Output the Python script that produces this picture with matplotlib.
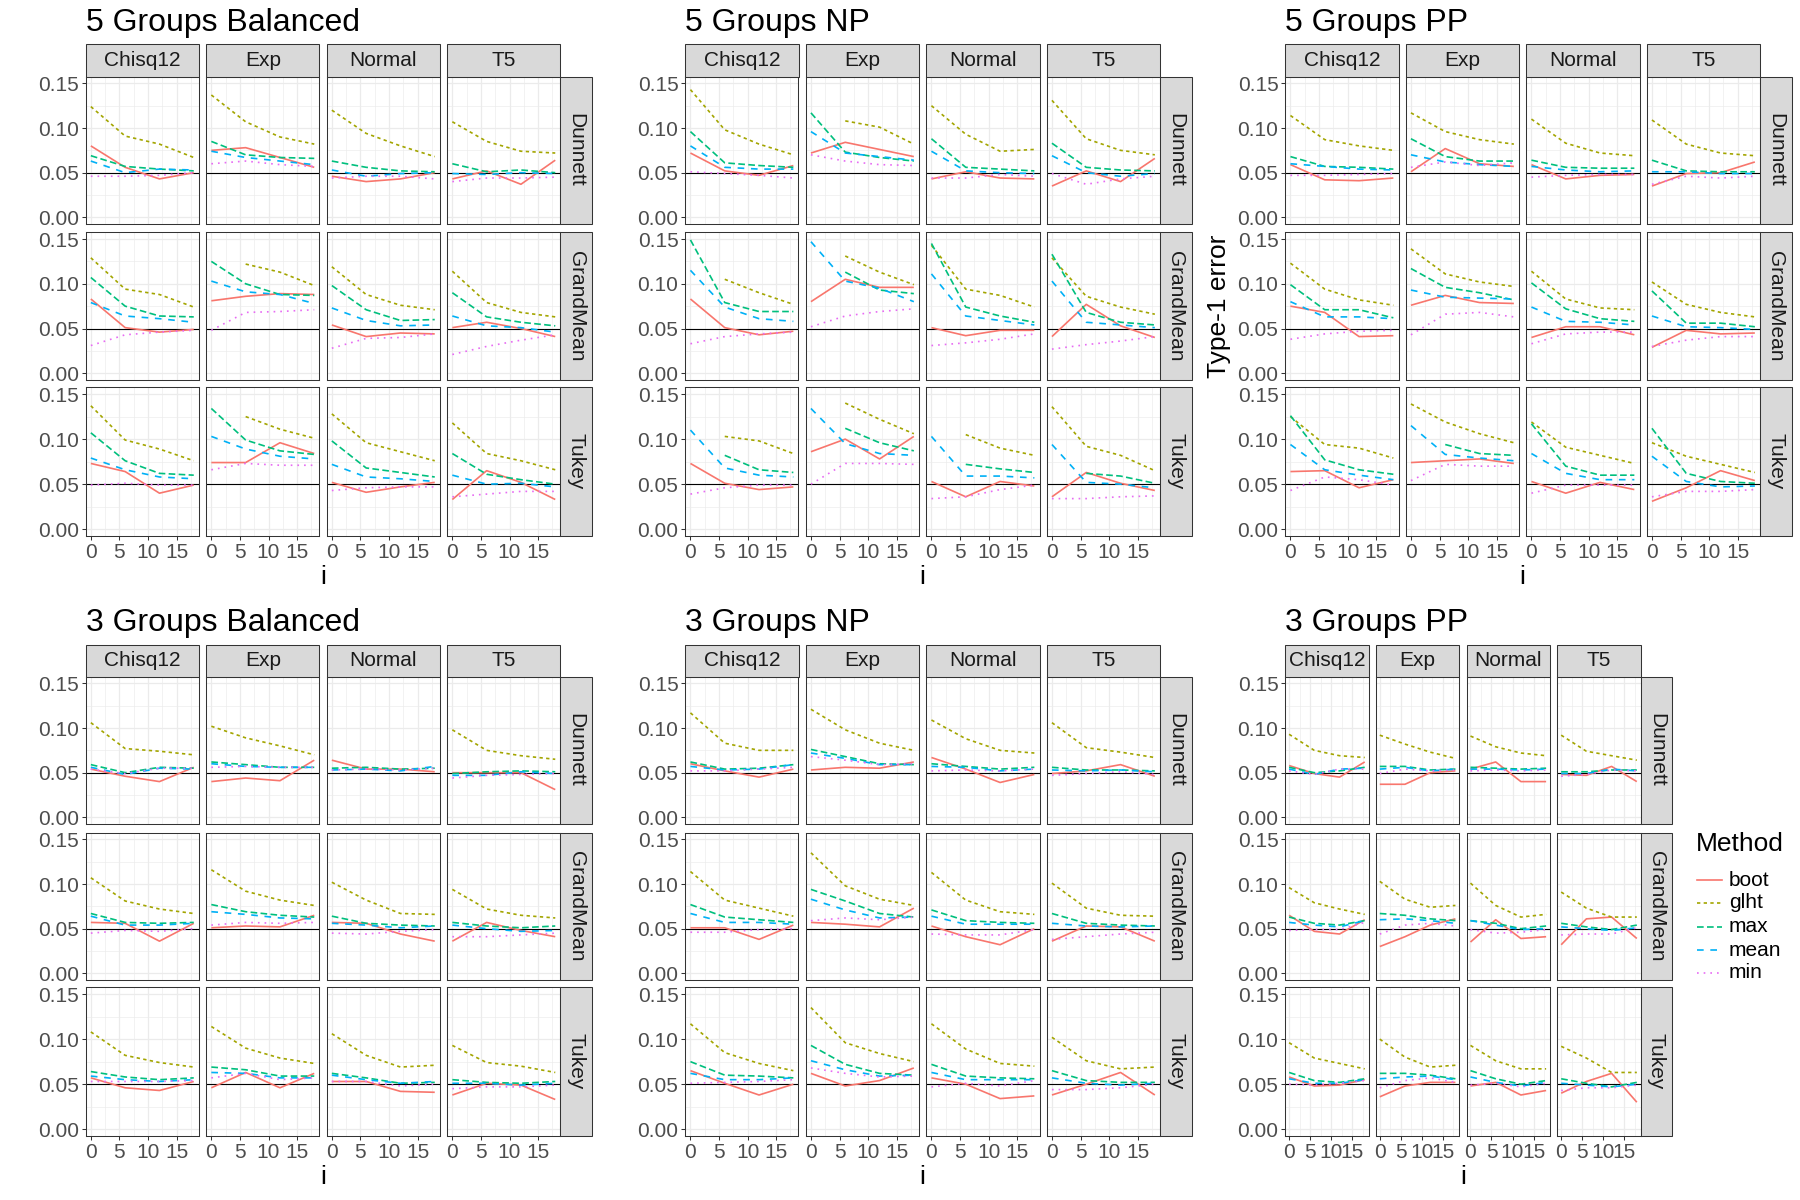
import numpy as np
import matplotlib
matplotlib.use("Agg")
import matplotlib.pyplot as plt
from matplotlib.lines import Line2D
from matplotlib.patches import Rectangle

plt.rcParams['font.family'] = ['Liberation Sans', 'DejaVu Sans']

nan = np.nan
i_values = [0, 6, 12, 18]
distributions = ["Chisq12", "Exp", "Normal", "T5"]
tests = ["Dunnett", "GrandMean", "Tukey"]
methods = ["boot", "glht", "max", "mean", "min"]
y_ticks = [0.00, 0.05, 0.10, 0.15]
y_tick_labels = ["0.00", "0.05", "0.10", "0.15"]
x_ticks = [0, 5, 10, 15]

# ---- values: per method, one list of 4 values (i = 0, 6, 12, 18) for each distribution ----
# 5 Groups Balanced
g5_bal_dunnett = {
    "boot": [[0.080, 0.056, 0.043, 0.050], [0.075, 0.078, 0.067, 0.056], [0.046, 0.040, 0.043, 0.050], [0.043, 0.052, 0.037, 0.064]],
    "glht": [[0.124, 0.091, 0.082, 0.067], [0.137, 0.107, 0.090, 0.082], [0.120, 0.094, 0.080, 0.068], [0.107, 0.085, 0.074, 0.072]],
    "max":  [[0.069, 0.057, 0.054, 0.052], [0.085, 0.070, 0.067, 0.066], [0.063, 0.056, 0.052, 0.051], [0.060, 0.051, 0.053, 0.050]],
    "mean": [[0.063, 0.050, 0.054, 0.053], [0.074, 0.067, 0.063, 0.059], [0.053, 0.046, 0.049, 0.050], [0.049, 0.048, 0.050, 0.049]],
    "min":  [[0.046, 0.046, 0.047, 0.050], [0.060, 0.063, 0.059, 0.057], [0.044, 0.046, 0.046, 0.043], [0.040, 0.044, 0.044, 0.045]],
}
g5_bal_grandmean = {
    "boot": [[0.083, 0.051, 0.046, 0.049], [0.081, 0.086, 0.089, 0.088], [0.054, 0.041, 0.045, 0.044], [0.051, 0.057, 0.050, 0.041]],
    "glht": [[0.129, 0.094, 0.088, 0.074], [nan, 0.122, 0.113, 0.098], [0.119, 0.088, 0.076, 0.071], [0.114, 0.079, 0.068, 0.063]],
    "max":  [[0.107, 0.075, 0.064, 0.063], [0.125, 0.100, 0.088, 0.087], [0.098, 0.071, 0.059, 0.060], [0.090, 0.063, 0.057, 0.053]],
    "mean": [[0.079, 0.064, 0.061, 0.057], [0.103, 0.091, 0.088, 0.078], [0.073, 0.059, 0.053, 0.054], [0.064, 0.053, 0.051, 0.046]],
    "min":  [[0.031, 0.043, 0.046, 0.048], [0.048, 0.068, 0.069, 0.071], [0.028, 0.039, 0.040, 0.044], [0.021, 0.030, 0.037, 0.043]],
}
g5_bal_tukey = {
    "boot": [[0.073, 0.064, 0.040, 0.049], [0.074, 0.074, 0.096, 0.084], [0.052, 0.041, 0.047, 0.052], [0.033, 0.065, 0.052, 0.033]],
    "glht": [[0.137, 0.099, 0.089, 0.076], [nan, 0.125, 0.111, 0.101], [0.128, 0.096, 0.086, 0.076], [0.118, 0.084, 0.076, 0.066]],
    "max":  [[0.107, 0.076, 0.062, 0.060], [0.134, 0.099, 0.087, 0.083], [0.098, 0.068, 0.063, 0.058], [0.084, 0.061, 0.055, 0.050]],
    "mean": [[0.079, 0.066, 0.058, 0.056], [0.103, 0.089, 0.081, 0.078], [0.072, 0.058, 0.056, 0.053], [0.060, 0.050, 0.051, 0.047]],
    "min":  [[0.049, 0.051, 0.049, 0.049], [0.066, 0.073, 0.071, 0.071], [0.043, 0.046, 0.047, 0.047], [0.036, 0.039, 0.042, 0.042]],
}
# 5 Groups NP
g5_np_dunnett = {
    "boot": [[0.072, 0.052, 0.047, 0.058], [0.072, 0.084, 0.076, 0.068], [0.043, 0.051, 0.044, 0.043], [0.035, 0.052, 0.040, 0.066]],
    "glht": [[0.143, 0.098, 0.082, 0.070], [nan, 0.108, 0.101, 0.082], [0.125, 0.093, 0.074, 0.076], [0.131, 0.088, 0.075, 0.070]],
    "max":  [[0.096, 0.061, 0.058, 0.056], [0.117, 0.073, 0.067, 0.063], [0.088, 0.056, 0.054, 0.052], [0.083, 0.056, 0.053, 0.052]],
    "mean": [[0.080, 0.056, 0.054, 0.054], [0.096, 0.072, 0.068, 0.064], [0.074, 0.052, 0.050, 0.049], [0.069, 0.050, 0.046, 0.049]],
    "min":  [[0.051, 0.049, 0.047, 0.044], [0.070, 0.063, 0.059, 0.058], [0.044, 0.044, 0.048, 0.046], [0.049, 0.037, 0.043, 0.046]],
}
g5_np_grandmean = {
    "boot": [[0.083, 0.051, 0.043, 0.047], [0.080, 0.105, 0.096, 0.096], [0.051, 0.042, 0.048, 0.048], [0.041, 0.077, 0.053, 0.040]],
    "glht": [[nan, 0.105, 0.090, 0.077], [nan, 0.131, 0.113, 0.099], [0.143, 0.094, 0.087, 0.074], [0.129, 0.086, 0.074, 0.066]],
    "max":  [[0.149, 0.079, 0.069, 0.069], [nan, 0.113, 0.093, 0.089], [0.145, 0.074, 0.064, 0.057], [0.133, 0.068, 0.057, 0.054]],
    "mean": [[0.115, 0.074, 0.061, 0.058], [0.147, 0.103, 0.095, 0.080], [0.111, 0.064, 0.059, 0.054], [0.103, 0.057, 0.054, 0.051]],
    "min":  [[0.033, 0.041, 0.044, 0.046], [0.052, 0.064, 0.069, 0.072], [0.031, 0.034, 0.038, 0.044], [0.027, 0.032, 0.036, 0.041]],
}
g5_np_tukey = {
    "boot": [[0.073, 0.051, 0.044, 0.047], [0.086, 0.100, 0.078, 0.103], [0.053, 0.036, 0.053, 0.048], [0.036, 0.063, 0.051, 0.043]],
    "glht": [[nan, 0.103, 0.098, 0.084], [nan, 0.140, 0.122, 0.106], [nan, 0.105, 0.090, 0.082], [0.136, 0.092, 0.082, 0.065]],
    "max":  [[nan, 0.082, 0.066, 0.063], [nan, 0.112, 0.096, 0.087], [nan, 0.072, 0.067, 0.063], [nan, 0.062, 0.059, 0.051]],
    "mean": [[0.110, 0.068, 0.060, 0.058], [0.134, 0.095, 0.084, 0.082], [0.103, 0.059, 0.059, 0.057], [0.094, 0.052, 0.050, 0.046]],
    "min":  [[0.039, 0.046, 0.049, 0.049], [0.050, 0.073, 0.073, 0.072], [0.034, 0.036, 0.044, 0.049], [0.034, 0.034, 0.036, 0.037]],
}
# 5 Groups PP
g5_pp_dunnett = {
    "boot": [[0.059, 0.042, 0.041, 0.044], [0.051, 0.077, 0.060, 0.057], [0.059, 0.043, 0.047, 0.048], [0.035, 0.049, 0.050, 0.062]],
    "glht": [[0.114, 0.087, 0.080, 0.075], [0.117, 0.096, 0.087, 0.082], [0.110, 0.083, 0.072, 0.069], [0.109, 0.082, 0.072, 0.069]],
    "max":  [[0.068, 0.057, 0.056, 0.054], [0.088, 0.068, 0.063, 0.063], [0.064, 0.056, 0.055, 0.055], [0.064, 0.052, 0.051, 0.051]],
    "mean": [[0.060, 0.057, 0.054, 0.053], [0.070, 0.062, 0.059, 0.057], [0.057, 0.053, 0.051, 0.052], [0.051, 0.051, 0.049, 0.049]],
    "min":  [[0.047, 0.047, 0.048, 0.049], [0.056, 0.062, 0.058, 0.061], [0.045, 0.047, 0.048, 0.048], [0.037, 0.046, 0.044, 0.046]],
}
g5_pp_grandmean = {
    "boot": [[0.075, 0.068, 0.041, 0.042], [0.076, 0.087, 0.079, 0.078], [0.040, 0.052, 0.052, 0.043], [0.029, 0.048, 0.044, 0.045]],
    "glht": [[0.123, 0.094, 0.082, 0.076], [0.139, 0.111, 0.102, 0.097], [0.114, 0.083, 0.073, 0.071], [0.102, 0.077, 0.068, 0.063]],
    "max":  [[0.099, 0.071, 0.071, 0.062], [0.117, 0.096, 0.090, 0.082], [0.101, 0.072, 0.061, 0.058], [0.092, 0.056, 0.056, 0.052]],
    "mean": [[0.080, 0.063, 0.063, 0.061], [0.093, 0.085, 0.084, 0.083], [0.074, 0.058, 0.057, 0.054], [0.064, 0.052, 0.051, 0.049]],
    "min":  [[0.038, 0.044, 0.047, 0.048], [0.043, 0.066, 0.068, 0.063], [0.033, 0.044, 0.046, 0.046], [0.030, 0.037, 0.041, 0.041]],
}
g5_pp_tukey = {
    "boot": [[0.064, 0.065, 0.046, 0.055], [0.074, 0.076, 0.078, 0.073], [0.053, 0.040, 0.052, 0.044], [0.031, 0.046, 0.065, 0.054]],
    "glht": [[0.125, 0.094, 0.090, 0.079], [0.139, 0.119, 0.106, 0.096], [0.119, 0.091, 0.082, 0.073], [0.096, 0.081, 0.072, 0.063]],
    "max":  [[0.126, 0.077, 0.066, 0.061], [nan, 0.094, 0.084, 0.082], [0.117, 0.070, 0.060, 0.060], [0.112, 0.062, 0.053, 0.051]],
    "mean": [[0.094, 0.066, 0.060, 0.055], [0.115, 0.083, 0.079, 0.076], [0.084, 0.062, 0.055, 0.055], [0.081, 0.053, 0.047, 0.048]],
    "min":  [[0.043, 0.058, 0.055, 0.049], [0.054, 0.072, 0.070, 0.070], [0.040, 0.049, 0.049, 0.049], [0.036, 0.042, 0.042, 0.044]],
}
# 3 Groups Balanced
g3_bal_dunnett = {
    "boot": [[0.054, 0.046, 0.040, 0.056], [0.040, 0.044, 0.041, 0.064], [0.064, 0.054, 0.054, 0.051], [0.050, 0.050, 0.050, 0.031]],
    "glht": [[0.106, 0.077, 0.074, 0.070], [0.102, 0.089, 0.080, 0.070], [nan, nan, nan, nan], [0.098, 0.075, 0.069, 0.065]],
    "max":  [[0.059, 0.050, 0.056, 0.055], [0.062, 0.059, 0.056, 0.056], [0.055, 0.056, 0.054, 0.055], [0.049, 0.051, 0.052, 0.051]],
    "mean": [[0.056, 0.048, 0.055, 0.054], [0.060, 0.057, 0.056, 0.056], [0.053, 0.054, 0.052, 0.057], [0.047, 0.047, 0.051, 0.049]],
    "min":  [[0.054, 0.049, 0.055, 0.055], [0.056, 0.057, 0.056, 0.056], [0.053, 0.054, 0.053, 0.055], [0.044, 0.047, 0.048, 0.049]],
}
g3_bal_grandmean = {
    "boot": [[0.057, 0.056, 0.036, 0.056], [0.051, 0.053, 0.052, 0.065], [0.057, 0.056, 0.044, 0.036], [0.036, 0.057, 0.048, 0.041]],
    "glht": [[0.107, 0.081, 0.072, 0.067], [0.116, 0.092, 0.082, 0.076], [0.102, 0.082, 0.067, 0.066], [0.094, 0.072, 0.065, 0.062]],
    "max":  [[0.067, 0.057, 0.056, 0.057], [0.077, 0.069, 0.065, 0.063], [0.064, 0.056, 0.054, 0.053], [0.057, 0.053, 0.051, 0.053]],
    "mean": [[0.064, 0.054, 0.054, 0.056], [0.069, 0.066, 0.062, 0.061], [0.056, 0.054, 0.051, 0.053], [0.054, 0.050, 0.047, 0.048]],
    "min":  [[0.045, 0.048, 0.047, 0.050], [0.054, 0.057, 0.056, 0.057], [0.045, 0.044, 0.047, 0.049], [0.041, 0.041, 0.043, 0.045]],
}
g3_bal_tukey = {
    "boot": [[0.057, 0.046, 0.043, 0.053], [0.046, 0.063, 0.046, 0.062], [0.053, 0.053, 0.042, 0.041], [0.038, 0.051, 0.049, 0.033]],
    "glht": [[0.108, 0.082, 0.074, 0.069], [0.114, 0.090, 0.079, 0.073], [0.106, 0.082, 0.069, 0.071], [0.093, 0.074, 0.070, 0.063]],
    "max":  [[0.064, 0.058, 0.055, 0.057], [0.069, 0.066, 0.059, 0.059], [0.062, 0.057, 0.051, 0.052], [0.055, 0.052, 0.051, 0.053]],
    "mean": [[0.059, 0.055, 0.053, 0.055], [0.063, 0.062, 0.057, 0.057], [0.060, 0.055, 0.051, 0.053], [0.051, 0.051, 0.049, 0.051]],
    "min":  [[0.053, 0.053, 0.053, 0.054], [0.057, 0.062, 0.055, 0.057], [0.053, 0.053, 0.048, 0.050], [0.045, 0.047, 0.047, 0.049]],
}
# 3 Groups NP
g3_np_dunnett = {
    "boot": [[0.060, 0.052, 0.045, 0.054], [0.053, 0.056, 0.055, 0.062], [0.067, 0.054, 0.039, 0.048], [0.049, 0.052, 0.059, 0.046]],
    "glht": [[0.117, 0.083, 0.075, 0.075], [0.121, 0.098, 0.083, 0.075], [0.109, 0.088, 0.075, 0.072], [0.106, 0.078, 0.073, 0.067]],
    "max":  [[0.062, 0.054, 0.055, 0.059], [0.076, 0.068, 0.060, 0.059], [0.060, 0.057, 0.054, 0.056], [0.056, 0.053, 0.053, 0.052]],
    "mean": [[0.057, 0.053, 0.054, 0.059], [0.072, 0.066, 0.059, 0.059], [0.057, 0.056, 0.052, 0.054], [0.053, 0.052, 0.053, 0.051]],
    "min":  [[0.052, 0.052, 0.054, 0.056], [0.068, 0.064, 0.059, 0.060], [0.052, 0.053, 0.052, 0.054], [0.047, 0.049, 0.051, 0.048]],
}
g3_np_grandmean = {
    "boot": [[0.051, 0.051, 0.038, 0.054], [0.057, 0.055, 0.052, 0.073], [0.053, 0.041, 0.032, 0.050], [0.036, 0.053, 0.052, 0.036]],
    "glht": [[0.114, 0.082, 0.073, 0.064], [0.135, 0.098, 0.083, 0.076], [0.113, 0.082, 0.069, 0.066], [0.101, 0.073, 0.065, 0.064]],
    "max":  [[0.077, 0.063, 0.060, 0.057], [0.094, 0.081, 0.067, 0.063], [0.071, 0.059, 0.057, 0.056], [0.067, 0.056, 0.054, 0.053]],
    "mean": [[0.067, 0.057, 0.057, 0.055], [0.083, 0.071, 0.062, 0.063], [0.064, 0.055, 0.055, 0.055], [0.056, 0.053, 0.052, 0.053]],
    "min":  [[0.046, 0.046, 0.049, 0.050], [0.059, 0.062, 0.060, 0.063], [0.044, 0.043, 0.043, 0.049], [0.038, 0.041, 0.044, 0.046]],
}
g3_np_tukey = {
    "boot": [[0.065, 0.051, 0.038, 0.050], [0.062, 0.048, 0.054, 0.068], [0.057, 0.050, 0.034, 0.037], [0.038, 0.050, 0.063, 0.038]],
    "glht": [[0.117, 0.085, 0.073, 0.065], [0.135, 0.096, 0.084, 0.075], [0.117, 0.089, 0.073, 0.070], [0.102, 0.076, 0.067, 0.069]],
    "max":  [[0.075, 0.060, 0.059, 0.057], [0.093, 0.072, 0.062, 0.060], [0.072, 0.059, 0.057, 0.056], [0.065, 0.054, 0.052, 0.052]],
    "mean": [[0.062, 0.055, 0.055, 0.057], [0.076, 0.066, 0.059, 0.060], [0.063, 0.055, 0.055, 0.055], [0.057, 0.051, 0.049, 0.051]],
    "min":  [[0.051, 0.052, 0.053, 0.055], [0.068, 0.062, 0.058, 0.059], [0.047, 0.051, 0.048, 0.054], [0.044, 0.044, 0.046, 0.050]],
}
# 3 Groups PP
g3_pp_dunnett = {
    "boot": [[0.058, 0.049, 0.045, 0.062], [0.037, 0.037, 0.050, 0.052], [0.054, 0.062, 0.040, 0.040], [0.048, 0.047, 0.057, 0.040]],
    "glht": [[0.093, 0.075, 0.069, 0.067], [0.092, 0.082, 0.073, 0.066], [0.091, 0.079, 0.072, 0.069], [0.092, 0.074, 0.069, 0.064]],
    "max":  [[0.056, 0.050, 0.052, 0.056], [0.057, 0.057, 0.053, 0.054], [0.056, 0.055, 0.054, 0.055], [0.051, 0.051, 0.053, 0.053]],
    "mean": [[0.054, 0.048, 0.054, 0.055], [0.054, 0.056, 0.052, 0.054], [0.054, 0.054, 0.053, 0.054], [0.049, 0.049, 0.054, 0.052]],
    "min":  [[0.052, 0.048, 0.054, 0.054], [0.049, 0.054, 0.052, 0.053], [0.052, 0.053, 0.052, 0.053], [0.046, 0.048, 0.053, 0.052]],
}
g3_pp_grandmean = {
    "boot": [[0.065, 0.047, 0.044, 0.060], [0.030, 0.041, 0.054, 0.061], [0.035, 0.060, 0.039, 0.041], [0.032, 0.061, 0.063, 0.039]],
    "glht": [[0.096, 0.079, 0.072, 0.066], [0.103, 0.083, 0.074, 0.076], [0.101, 0.076, 0.063, 0.066], [0.091, 0.073, 0.063, 0.063]],
    "max":  [[0.063, 0.056, 0.054, 0.059], [0.067, 0.065, 0.061, 0.059], [0.059, 0.056, 0.050, 0.053], [0.056, 0.052, 0.049, 0.054]],
    "mean": [[0.057, 0.054, 0.052, 0.059], [0.060, 0.061, 0.059, 0.056], [0.059, 0.054, 0.049, 0.050], [0.052, 0.050, 0.048, 0.051]],
    "min":  [[0.048, 0.049, 0.049, 0.057], [0.044, 0.054, 0.056, 0.053], [0.049, 0.045, 0.046, 0.049], [0.043, 0.044, 0.044, 0.051]],
}
g3_pp_tukey = {
    "boot": [[0.058, 0.048, 0.049, 0.055], [0.036, 0.048, 0.052, 0.052], [0.048, 0.052, 0.038, 0.043], [0.040, 0.053, 0.062, 0.030]],
    "glht": [[0.096, 0.079, 0.073, 0.067], [0.100, 0.080, 0.069, 0.071], [0.093, 0.076, 0.067, 0.067], [0.092, 0.079, 0.063, 0.063]],
    "max":  [[0.063, 0.054, 0.052, 0.056], [0.062, 0.062, 0.060, 0.056], [0.065, 0.056, 0.050, 0.054], [0.056, 0.051, 0.047, 0.052]],
    "mean": [[0.056, 0.051, 0.051, 0.055], [0.056, 0.058, 0.059, 0.055], [0.058, 0.052, 0.048, 0.052], [0.051, 0.049, 0.047, 0.050]],
    "min":  [[0.050, 0.049, 0.051, 0.054], [0.046, 0.054, 0.057, 0.052], [0.049, 0.051, 0.047, 0.051], [0.043, 0.046, 0.046, 0.049]],
}

block_titles = ["5 Groups Balanced", "5 Groups NP", "5 Groups PP",
                "3 Groups Balanced", "3 Groups NP", "3 Groups PP"]
block_data = [
    [g5_bal_dunnett, g5_bal_grandmean, g5_bal_tukey],
    [g5_np_dunnett, g5_np_grandmean, g5_np_tukey],
    [g5_pp_dunnett, g5_pp_grandmean, g5_pp_tukey],
    [g3_bal_dunnett, g3_bal_grandmean, g3_bal_tukey],
    [g3_np_dunnett, g3_np_grandmean, g3_np_tukey],
    [g3_pp_dunnett, g3_pp_grandmean, g3_pp_tukey],
]

colors = {"boot": "#F8766D", "glht": "#A3A500", "max": "#00BF7D", "mean": "#00B0F6", "min": "#E76BF3"}
linestyles = {"boot": "-", "glht": (0, (2, 2)), "max": (0, (4, 2)), "mean": (0, (4, 4)), "min": (0, (1, 3))}
LW = 1.2

# ---- layout (pixels) ----
W, H = 1800, 1200
fig = plt.figure(figsize=(18, 12), dpi=100)
fig.patch.set_facecolor("white")

GRID = "#EBEBEB"
DARK = "#333333"
STRIP = "#D9D9D9"
TICKTXT = "#4D4D4D"


def fx(x):
    return x / W


def fy(y):
    return 1 - y / H


def add_px(x0, y0, x1, y1):
    return fig.add_axes([fx(x0), fy(y1), (x1 - x0) / W, (y1 - y0) / H])


def strip_box(x0, y0, x1, y1, text, rot=0):
    fig.add_artist(Rectangle((fx(x0), fy(y1)), (x1 - x0) / W, (y1 - y0) / H,
                             transform=fig.transFigure, fc=STRIP, ec=DARK, lw=0.75))
    fig.text(fx((x0 + x1) / 2), fy((y0 + y1) / 2), text, ha="center", va="center",
             rotation=rot, fontsize=15, color="#1A1A1A")


top_rows = [(76.7, 224.0), (232.3, 380.0), (387.3, 536.0)]
bot_rows = [(676.7, 824.0), (832.7, 980.0), (987.3, 1136.0)]
block_left = [85.7, 685.3, 1285.3, 85.7, 685.3, 1285.3]
block_step = [120.5, 120.5, 120.5, 120.5, 120.5, 90.7]
block_w = [113.2, 113.2, 113.2, 113.2, 113.2, 83.2]

for b in range(6):
    rows = top_rows if b < 3 else bot_rows
    L, step, pw = block_left[b], block_step[b], block_w[b]
    strip_top = rows[0][0] - 32.2
    col_x = [(L + k * step, L + k * step + pw) for k in range(4)]
    right_edge = col_x[3][1]

    # title
    fig.text(fx(L), fy(strip_top - 13), block_titles[b], ha="left", va="baseline",
             fontsize=23, color="black")
    # column strips
    for k, (x0, x1) in enumerate(col_x):
        strip_box(x0, strip_top, x1, rows[0][0], distributions[k])
    # row strips
    for r, (y0, y1) in enumerate(rows):
        strip_box(right_edge, y0, right_edge + 31.5, y1, tests[r], rot=-90)

    for r, (y0, y1) in enumerate(rows):
        data = block_data[b][r]
        for k, (x0, x1) in enumerate(col_x):
            ax = add_px(x0, y0, x1, y1)
            ax.set_facecolor("white")
            ax.set_xlim(-0.9, 18.9)
            ax.set_ylim(-0.0075, 0.1575)
            ax.set_xticks(x_ticks)
            ax.set_xticks([2.5, 7.5, 12.5, 17.5], minor=True)
            ax.set_yticks(y_ticks)
            ax.set_yticks([0.025, 0.075, 0.125], minor=True)
            ax.grid(which="major", color=GRID, lw=0.9)
            ax.grid(which="minor", color=GRID, lw=0.45)
            ax.set_axisbelow(True)
            ax.tick_params(which="minor", length=0)
            ax.tick_params(which="major", length=2.9, width=0.75, color=DARK,
                           labelsize=15, labelcolor=TICKTXT, pad=2)
            if r == 2:
                ax.set_xticklabels([str(t) for t in x_ticks])
            else:
                ax.tick_params(axis="x", length=0, labelbottom=False)
            if k == 0:
                ax.set_yticklabels(y_tick_labels)
            else:
                ax.tick_params(axis="y", length=0, labelleft=False)
            for s in ax.spines.values():
                s.set_color(DARK)
                s.set_linewidth(0.75)
            ax.axhline(0.05, color="black", lw=0.8, zorder=2)
            for m in methods:
                ax.plot(i_values, data[m][k], color=colors[m], ls=linestyles[m],
                        lw=LW, zorder=3, solid_capstyle="butt", dash_capstyle="butt")

    # x axis title
    fig.text(fx((col_x[0][0] + right_edge) / 2), fy(rows[2][1] + 41), "i",
             ha="center", va="center", fontsize=19, color="black")

# shared y label (appears left of the 5 Groups PP block)
fig.text(fx(1219), fy(306), "Type-1 error", rotation=90, ha="center", va="center",
         fontsize=19, color="black")

# legend
fig.text(fx(1696), fy(844), "Method", ha="left", va="center", fontsize=19, color="black")
leg_y = [880, 903, 927, 950, 973]
for m, yy in zip(methods, leg_y):
    fig.add_artist(Line2D([fx(1697), fx(1722)], [fy(yy), fy(yy)], transform=fig.transFigure,
                          color=colors[m], ls=linestyles[m], lw=LW))
    fig.text(fx(1729), fy(yy), m, ha="left", va="center", fontsize=15, color="black")

fig.savefig("out.png", dpi=100, facecolor="white")
